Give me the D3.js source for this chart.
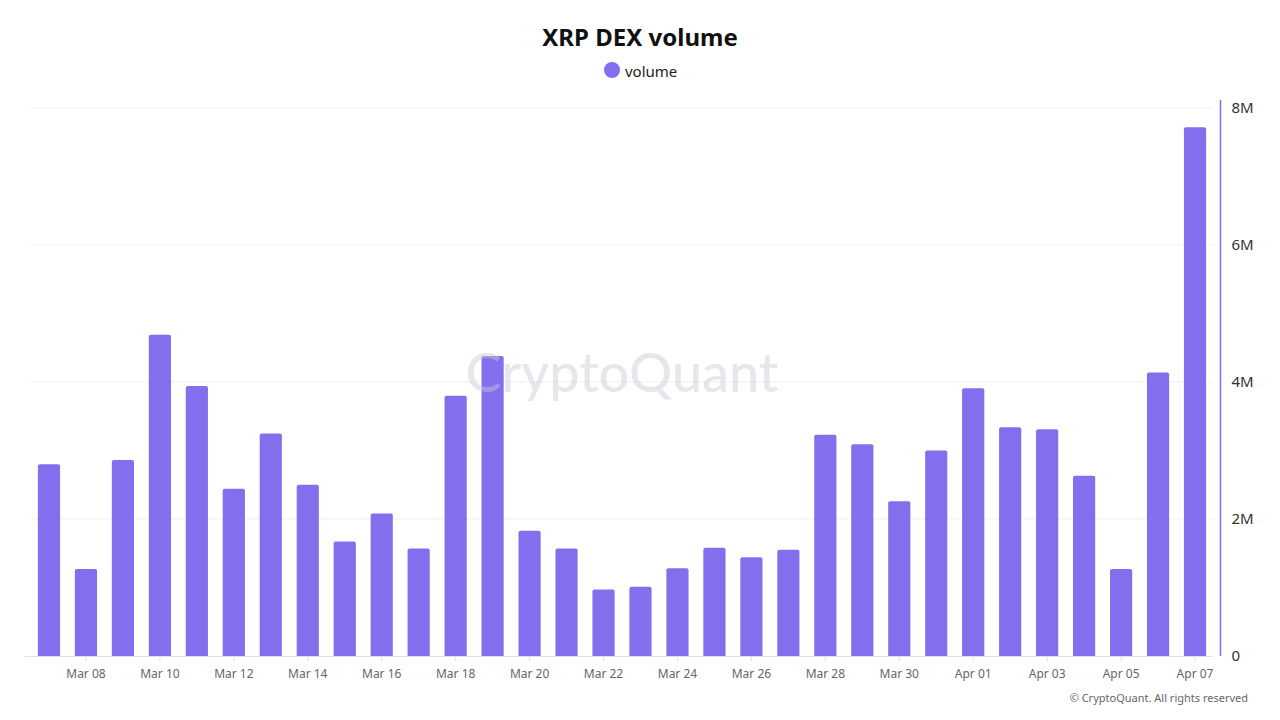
<!DOCTYPE html>
<html><head><meta charset="utf-8">
<script src="https://cdn.jsdelivr.net/npm/d3@7"></script>
<style>
html,body{margin:0;padding:0;background:#fff;}
svg{display:block;font-family:"Noto Sans","Open Sans",sans-serif;}
</style></head>
<body><svg id="c" width="1280" height="720"></svg>
<script>
const dates = ["Mar 07","Mar 08","Mar 09","Mar 10","Mar 11","Mar 12","Mar 13","Mar 14","Mar 15","Mar 16","Mar 17","Mar 18","Mar 19","Mar 20","Mar 21","Mar 22","Mar 23","Mar 24","Mar 25","Mar 26","Mar 27","Mar 28","Mar 29","Mar 30","Mar 31","Apr 01","Apr 02","Apr 03","Apr 04","Apr 05","Apr 06","Apr 07"];
const volume = [2.80,1.27,2.86,4.69,3.94,2.44,3.25,2.50,1.67,2.08,1.57,3.80,4.38,1.83,1.57,0.97,1.01,1.28,1.58,1.44,1.55,3.23,3.09,2.26,3.00,3.91,3.34,3.31,2.63,1.27,4.14,7.72].map(v=>v*1e6);
const yTicks = [0,2e6,4e6,6e6,8e6];
const tickDates = dates.filter((d,i)=>i%2===1);

const svg = d3.select("#c");
const color = "#816fee";
const x = d3.scaleBand().domain(dates).range([30.5,1213.5]).paddingInner(0.4).paddingOuter(0.2);
const y = d3.scaleLinear().domain([0,8e6]).range([656,108]);

// gridlines
svg.append("g").selectAll("line").data(yTicks.slice(1)).join("line")
  .attr("x1",30).attr("x2",1213).attr("y1",d=>y(d)).attr("y2",d=>y(d))
  .attr("stroke","#f1f1f4").attr("stroke-width",1);

// bars
svg.append("g").selectAll("path").data(dates).join("path")
  .attr("fill",color)
  .attr("d",(d,i)=>{
    const x0=x(d), w=x.bandwidth(), y0=y(volume[i]), y1=y(0), r=2;
    return `M${x0},${y1}V${y0+r}Q${x0},${y0} ${x0+r},${y0}H${x0+w-r}Q${x0+w},${y0} ${x0+w},${y0+r}V${y1}Z`;
  });

// watermark
svg.append("text").attr("x",622).attr("y",392).attr("text-anchor","middle")
  .attr("font-family","Lato, 'Noto Sans', sans-serif").attr("font-size",54).attr("font-weight",500)
  .attr("fill","#c8c8d4").attr("fill-opacity",0.45).text("CryptoQuant");

// x axis
const xAxis = d3.axisBottom(x).tickValues(tickDates).tickSize(5).tickSizeOuter(0);
const gx = svg.append("g").attr("transform","translate(0,656)").call(xAxis);
gx.select(".domain").attr("stroke","#e0e0e6").attr("d","M25,0.5H1213");
gx.selectAll(".tick line").attr("stroke","#e0e0e6");
gx.selectAll(".tick text").attr("fill","#666").attr("font-size",12).attr("dy","1.15em")
  .attr("font-family","'Noto Sans',sans-serif");

// y axis right
const yAxis = d3.axisRight(y).tickValues(yTicks).tickSize(0).tickPadding(11)
  .tickFormat(d=>d===0?"0":(d/1e6)+"M");
const gy = svg.append("g").attr("transform","translate(1220.5,0)").call(yAxis);
gy.select(".domain").attr("stroke",color).attr("stroke-width",1.5).attr("d","M0,100V656");
gy.selectAll(".tick text").attr("fill","#333").attr("font-size",15).attr("font-family","'Noto Sans',sans-serif");

// title
svg.append("text").attr("x",640).attr("y",46).attr("text-anchor","middle")
  .attr("font-size",24).attr("font-weight",700).attr("fill","#111").text("XRP DEX volume");

// legend
svg.append("circle").attr("cx",612).attr("cy",70).attr("r",8).attr("fill",color);
svg.append("text").attr("x",625).attr("y",77).attr("font-size",15).attr("fill","#222").text("volume");

// footer
svg.append("text").attr("x",1248).attr("y",702).attr("text-anchor","end")
  .attr("font-size",11).attr("fill","#666").text("© CryptoQuant. All rights reserved");
</script>
</body></html>
